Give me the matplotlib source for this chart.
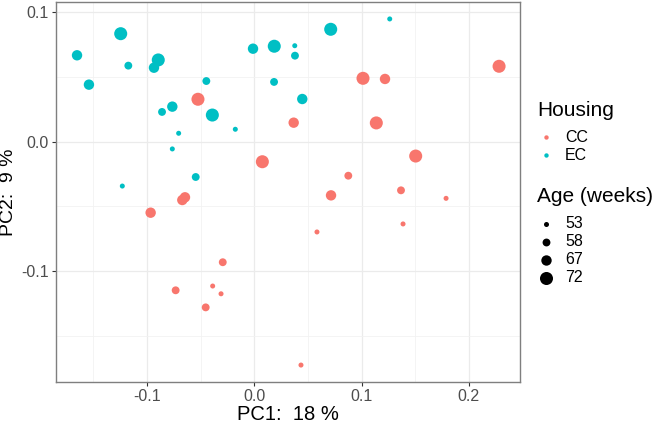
import numpy as np
import matplotlib
matplotlib.use("Agg")
import matplotlib.pyplot as plt

plt.rcParams['font.family'] = ['Liberation Sans', 'DejaVu Sans']

# PCA scores
ec_pc1 = [-0.1652, -0.1245, -0.1174, -0.1541, -0.0895, -0.0935, -0.0447, -0.0764,
          -0.0860, -0.0391, -0.0705, -0.0764, -0.0177, -0.0012, 0.0186, 0.0377,
          0.0379, 0.0184, 0.0447, -0.0546, -0.1230, 0.0712, 0.1262]
ec_pc2 = [0.0668, 0.0835, 0.0588, 0.0441, 0.0632, 0.0572, 0.0469, 0.0271,
          0.0230, 0.0206, 0.0065, -0.0056, 0.0096, 0.0719, 0.0738, 0.0742,
          0.0665, 0.0462, 0.0330, -0.0273, -0.0343, 0.0869, 0.0949]
ec_age = [67, 72, 58, 67, 72, 67, 58, 67, 58, 72, 53, 53, 53, 67, 72, 53,
          58, 58, 67, 58, 53, 72, 53]

cc_pc1 = [-0.0525, 0.0367, 0.0075, -0.0646, -0.0671, -0.0966, 0.2281, 0.1013,
          0.1218, 0.1137, 0.1504, 0.0876, 0.0715, 0.1367, 0.1787, 0.0584,
          -0.0294, -0.0733, -0.0388, -0.0310, -0.0453, 0.0435, 0.1386]
cc_pc2 = [0.0328, 0.0147, -0.0155, -0.0430, -0.0451, -0.0549, 0.0583, 0.0490,
          0.0485, 0.0145, -0.0111, -0.0263, -0.0415, -0.0376, -0.0438, -0.0698,
          -0.0932, -0.1149, -0.1116, -0.1176, -0.1281, -0.1727, -0.0636]
cc_age = [72, 67, 72, 67, 67, 67, 72, 72, 67, 72, 72, 58, 67, 58, 53, 53,
          58, 58, 53, 53, 58, 53, 53]

ages = [53, 58, 67, 72]
age_size = {53: 13, 58: 32, 67: 56, 72: 88}
groups = ["CC", "EC"]
colors = {"CC": "#F8766D", "EC": "#00BFC4"}

fig = plt.figure(figsize=(6.56, 4.24), dpi=100)
ax = fig.add_axes([56/656, 1 - 382/424, 464/656, 380/424])

ax.scatter(cc_pc1, cc_pc2, s=[age_size[a] for a in cc_age], c=colors["CC"],
           linewidths=0, zorder=3)
ax.scatter(ec_pc1, ec_pc2, s=[age_size[a] for a in ec_age], c=colors["EC"],
           linewidths=0, zorder=3)

ax.set_xlim(-0.1848, 0.2476)
ax.set_ylim(-0.1858, 0.108)
ax.set_xticks([-0.1, 0.0, 0.1, 0.2])
ax.set_xticklabels(["-0.1", "0.0", "0.1", "0.2"])
ax.set_yticks([-0.1, 0.0, 0.1])
ax.set_yticklabels(["-0.1", "0.0", "0.1"])
ax.set_xticks([-0.15, -0.05, 0.05, 0.15], minor=True)
ax.set_yticks([-0.15, -0.05, 0.05], minor=True)
ax.grid(True, which="major", color="#EBEBEB", linewidth=0.9, zorder=0)
ax.grid(True, which="minor", color="#F2F2F2", linewidth=0.6, zorder=0)
ax.set_axisbelow(True)
ax.tick_params(which="major", length=3, width=0.8, color="#333333", pad=2,
               labelsize=11.5, labelcolor="#4D4D4D")
ax.tick_params(which="minor", length=0)
for sp in ax.spines.values():
    sp.set_color("#7F7F7F")
    sp.set_linewidth(1.0)

ax.set_xlabel("PC1:  18 %", fontsize=14.5, labelpad=1)
ax.set_ylabel("PC2:  9 %", fontsize=14)
ax.yaxis.set_label_coords(-39 / 464, 0.5)

# legends drawn in pixel space
lg = fig.add_axes([0, 0, 1, 1])
lg.set_xlim(0, 656)
lg.set_ylim(424, 0)
lg.axis("off")

lg.text(537, 111, "Housing", fontsize=15, va="center", ha="left")
for i, g in enumerate(groups):
    y = 137 + i * 18
    lg.scatter([546], [y], s=10, c=colors[g], linewidths=0)
    lg.text(565, y, g, fontsize=11.5, va="center", ha="left")

lg.text(537, 196, "Age (weeks)", fontsize=15, va="center", ha="left")
for i, a in enumerate(ages):
    y = 224 + i * 18
    lg.scatter([546], [y], s=age_size[a], c="black", linewidths=0)
    lg.text(565, y, str(a), fontsize=11.5, va="center", ha="left")

fig.savefig("out.png", dpi=100)
